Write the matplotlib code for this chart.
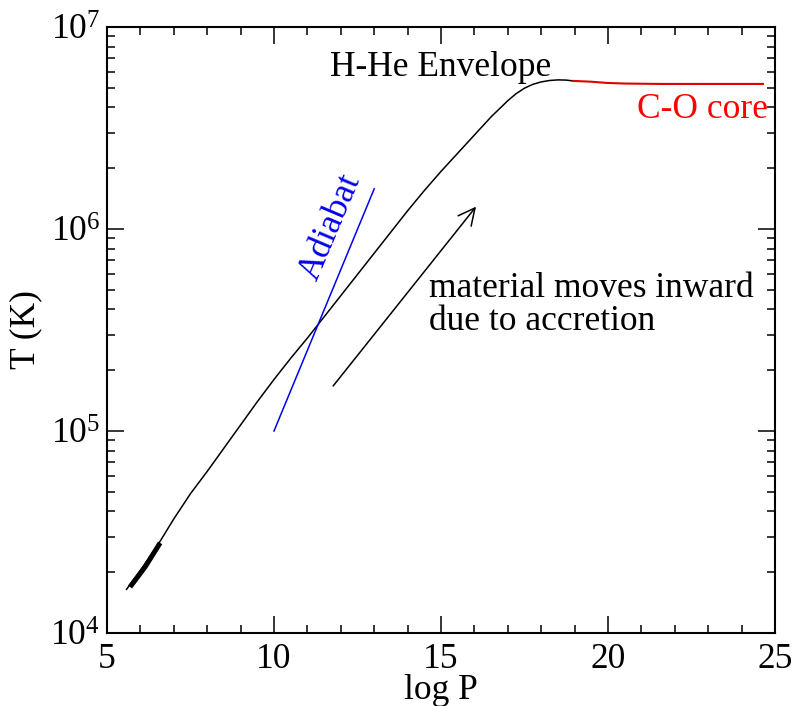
import numpy as np
import matplotlib
matplotlib.use("Agg")
import matplotlib.pyplot as plt
from matplotlib.ticker import LogLocator, MultipleLocator, FixedLocator, FuncFormatter

plt.rcParams["font.family"] = ["Liberation Serif", "DejaVu Serif"]
plt.rcParams["mathtext.fontset"] = "custom"
plt.rcParams["mathtext.rm"] = "Liberation Serif"
plt.rcParams["mathtext.it"] = "Liberation Serif:italic"

# Temperature profile through the H-He envelope (log10 P, log10 T)
env_logP = [5.57, 6.0, 6.5, 7.0, 7.5, 8.0, 8.5, 9.0, 9.5, 10.0, 10.5, 11.0,
            11.5, 12.0, 12.5, 13.0, 13.5, 14.0, 14.5, 15.0, 15.5, 16.0, 16.5,
            17.0, 17.25, 17.5, 17.75, 18.0, 18.25, 18.5, 18.75, 18.95]
env_logT = [4.213, 4.31, 4.43, 4.565, 4.69, 4.80, 4.915, 5.03, 5.145, 5.255,
            5.36, 5.46, 5.565, 5.67, 5.775, 5.88, 5.985, 6.09, 6.19, 6.285,
            6.375, 6.465, 6.555, 6.635, 6.670, 6.697, 6.716, 6.728, 6.735,
            6.738, 6.737, 6.733]

# Outer layer shown with a heavy stroke
outer_logP = [5.69, 6.14, 6.59]
outer_logT = [4.228, 4.327, 4.446]

# C-O core
core_logP = [18.95, 19.5, 19.97, 20.5, 21.0, 21.56, 23.0, 24.64]
core_logT = [6.733, 6.729, 6.723, 6.720, 6.719, 6.718, 6.718, 6.718]

# Adiabat reference line
adiabat_logP = [10.0, 13.0]
adiabat_T = [1.0e5, 1.58e6]

# Accretion arrow (tail, head)
arrow_logP = [11.77, 16.05]
arrow_T = [1.67e5, 1.29e6]

FS = 25.5

fig = plt.figure(figsize=(7.94, 7.06), dpi=100)
ax = fig.add_axes([0.1348, 0.1034, 0.976 - 0.1348, 0.9618 - 0.1034])

ax.plot(env_logP, 10 ** np.array(env_logT), color="black", lw=1.1,
        solid_capstyle="butt")
ax.plot(outer_logP, 10 ** np.array(outer_logT), color="black", lw=3.6,
        solid_capstyle="butt")
ax.plot(core_logP, 10 ** np.array(core_logT), color="#e00000", lw=1.5)
ax.plot(adiabat_logP, adiabat_T, color="#0000ee", lw=1.1)

ax.annotate("", xy=(arrow_logP[1], arrow_T[1]), xytext=(arrow_logP[0], arrow_T[0]),
            arrowprops=dict(arrowstyle="->,head_length=0.6,head_width=0.3",
                            color="black", lw=1.1, mutation_scale=20,
                            shrinkA=0, shrinkB=0))

ax.set_yscale("log")
ax.set_xlim(5, 25)
ax.set_ylim(1e4, 1e7)

ax.xaxis.set_major_locator(MultipleLocator(5))
ax.xaxis.set_minor_locator(MultipleLocator(1))
ax.yaxis.set_major_locator(FixedLocator([1e4, 1e5, 1e6, 1e7]))
ax.yaxis.set_minor_locator(LogLocator(base=10, subs=np.arange(2, 10), numticks=20))
ax.yaxis.set_major_formatter(FuncFormatter(lambda v, p: r"$10^{%d}$" % round(np.log10(v))))
ax.xaxis.set_major_formatter(FuncFormatter(lambda v, p: "%d" % v))

ax.tick_params(which="both", direction="in", top=True, right=True,
               labelsize=FS, width=1.1)
ax.tick_params(which="major", length=12)
ax.tick_params(which="minor", length=6)
ax.tick_params(axis="x", which="major", pad=7)
ax.tick_params(axis="y", which="major", pad=5)
for s in ax.spines.values():
    s.set_linewidth(1.5)

ax.set_xlabel("log P", fontsize=FS, labelpad=-1)
ax.set_ylabel("T (K)", fontsize=FS, labelpad=6)

ax.text(11.68, 5.7e6, "H-He Envelope", fontsize=FS, ha="left", va="baseline")
ax.text(24.8, 3.55e6, "C-O core", fontsize=FS, color="#ff0000", ha="right",
        va="baseline")
ax.text(14.65, 4.2e5, "material moves inward\ndue to accretion", fontsize=FS,
        ha="left", va="center", linespacing=1.0)
ax.text(11.7, 1.02e6, "Adiabat", fontsize=FS, color="#0000ee", rotation=67,
        rotation_mode="anchor", ha="center", va="center")

fig.savefig("out.png", dpi=100)
